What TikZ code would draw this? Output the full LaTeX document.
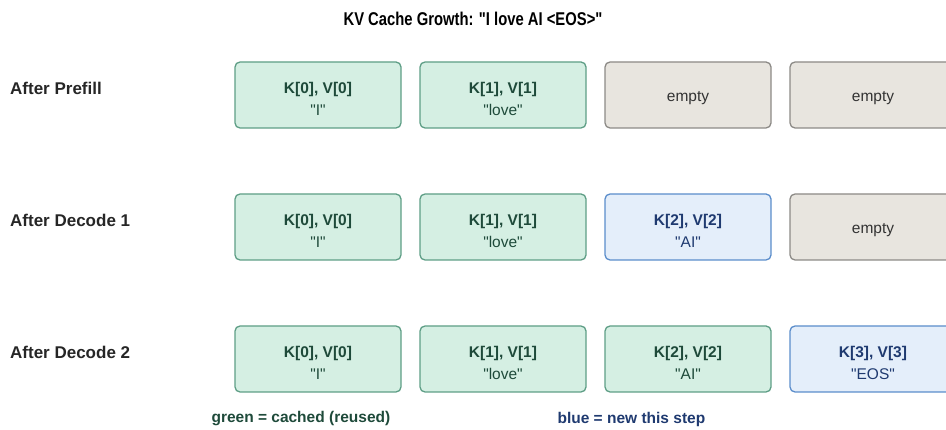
\documentclass[tikz,border=0pt]{standalone}
\usepackage{fontspec}
\usepackage{graphicx}
\setmainfont{Liberation Sans}[Ligatures=TeXOff]
\begin{document}
\begin{tikzpicture}[x=1pt,y=-1pt]
\definecolor{gfill}{HTML}{D5EFE3}
\definecolor{gdraw}{HTML}{5E9E86}
\definecolor{gtext}{HTML}{1E4A3A}
\definecolor{efill}{HTML}{E8E5DF}
\definecolor{edraw}{HTML}{8C8A86}
\definecolor{etext}{HTML}{333333}
\definecolor{bfill}{HTML}{E4EEFA}
\definecolor{bdraw}{HTML}{5B8DCB}
\definecolor{btext}{HTML}{1F3A70}
\tikzset{
  cell/.style={rounded corners=5pt, line width=1.3pt, minimum width=166pt, minimum height=66pt, inner sep=0pt},
  gcell/.style={cell, fill=gfill, draw=gdraw},
  ecell/.style={cell, fill=efill, draw=edraw},
  bcell/.style={cell, fill=bfill, draw=bdraw},
  rowlab/.style={anchor=west, inner sep=0pt, font=\bfseries\fontsize{17}{19}\selectfont, text=black!85},
  leg/.style={anchor=west, font=\bfseries\fontsize{15.5}{18}\selectfont},
  ct/.style={align=center, inner sep=0pt, font=\fontsize{15.5}{22}\selectfont},
}
\useasboundingbox (0,0) rectangle (946,430);
\node[inner sep=0pt, font=\bfseries\fontsize{18.5}{20}\selectfont] (title) at (473,19) {\scalebox{0.8}[1]{KV Cache Growth: "I love AI <EOS>"}};
% row labels
\node[rowlab] (l1) at (10,88) {After Prefill};
\node[rowlab] (l2) at (10,220) {After Decode 1};
\node[rowlab] (l3) at (10,352) {After Decode 2};
% row 1
\node[gcell] (a0) at (318,95) {};
\node[gcell] (a1) at (503,95) {};
\node[ecell] (a2) at (688,95) {};
\node[ecell] (a3) at (873,95) {};
% row 2
\node[gcell] (b0) at (318,227) {};
\node[gcell] (b1) at (503,227) {};
\node[bcell] (b2) at (688,227) {};
\node[ecell] (b3) at (873,227) {};
% row 3
\node[gcell] (c0) at (318,359) {};
\node[gcell] (c1) at (503,359) {};
\node[gcell] (c2) at (688,359) {};
\node[bcell] (c3) at (873,359) {};
% texts
\node[ct, text=gtext] (ta0) at ([yshift=-4pt]a0.center) {\textbf{K[0], V[0]}\\"I"};
\node[ct, text=gtext] (ta1) at ([yshift=-4pt]a1.center) {\textbf{K[1], V[1]}\\"love"};
\node[ct, text=etext] (ta2) at ([yshift=-3pt]a2.center) {empty};
\node[ct, text=etext] (ta3) at ([yshift=-3pt]a3.center) {empty};
\node[ct, text=gtext] (tb0) at ([yshift=-4pt]b0.center) {\textbf{K[0], V[0]}\\"I"};
\node[ct, text=gtext] (tb1) at ([yshift=-4pt]b1.center) {\textbf{K[1], V[1]}\\"love"};
\node[ct, text=btext] (tb2) at ([yshift=-4pt]b2.center) {\textbf{K[2], V[2]}\\"AI"};
\node[ct, text=etext] (tb3) at ([yshift=-3pt]b3.center) {empty};
\node[ct, text=gtext] (tc0) at ([yshift=-4pt]c0.center) {\textbf{K[0], V[0]}\\"I"};
\node[ct, text=gtext] (tc1) at ([yshift=-4pt]c1.center) {\textbf{K[1], V[1]}\\"love"};
\node[ct, text=gtext] (tc2) at ([yshift=-4pt]c2.center) {\textbf{K[2], V[2]}\\"AI"};
\node[ct, text=btext] (tc3) at ([yshift=-4pt]c3.center) {\textbf{K[3], V[3]}\\"EOS"};
% legend
\node[leg, text=gtext] (lg) at (208,419) {green = cached (reused)};
\node[leg, text=btext] (lb) at (554,419) {blue = new this step};
\end{tikzpicture}
\end{document}
